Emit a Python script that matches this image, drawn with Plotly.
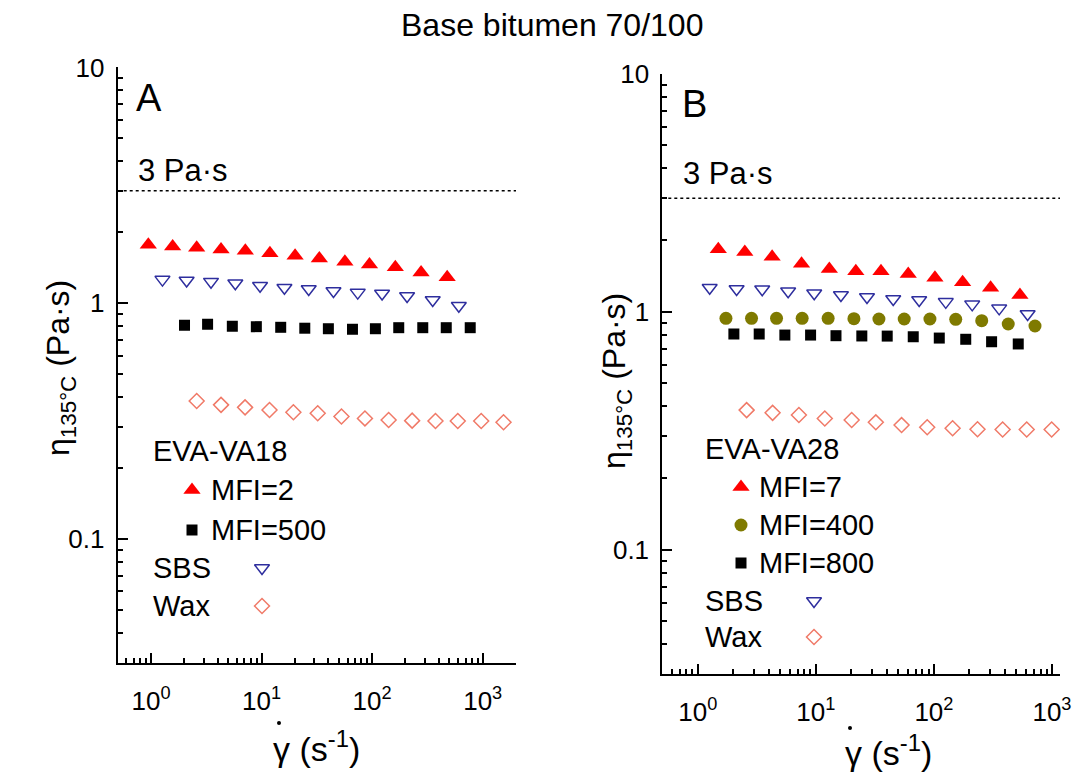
import math
import plotly.graph_objects as go

# ---- data: viscosity at 135 °C vs shear rate ----
# Panel A: EVA-VA18
a_mfi2_x = [0.946, 1.57, 2.59, 4.30, 7.13, 11.9, 20.1, 33.3, 56.7, 94.6, 162, 277, 477]
a_mfi2_y = [1.77, 1.74, 1.72, 1.69, 1.67, 1.63, 1.59, 1.55, 1.50, 1.46, 1.42, 1.35, 1.29]

a_mfi500_x = [2.01, 3.25, 5.44, 8.97, 14.9, 24.6, 40.2, 66.4, 107, 174, 287, 468, 771]
a_mfi500_y = [0.807, 0.815, 0.800, 0.796, 0.791, 0.784, 0.780, 0.776, 0.780, 0.788, 0.788, 0.788, 0.788]

a_sbs_x = [1.27, 2.10, 3.49, 5.79, 9.69, 16.1, 26.7, 44.7, 74.1, 123, 207, 353, 608]
a_sbs_y = [1.26, 1.25, 1.235, 1.216, 1.187, 1.164, 1.15, 1.127, 1.11, 1.10, 1.074, 1.033, 0.977]

a_wax_x = [2.59, 4.30, 7.09, 11.8, 19.4, 32.2, 52.8, 86.1, 141, 230, 374, 595, 969, 1543]
a_wax_y = [0.385, 0.371, 0.362, 0.353, 0.345, 0.342, 0.331, 0.325, 0.320, 0.318, 0.317, 0.317, 0.317, 0.313]

# Panel B: EVA-VA28
b_mfi7_x = [1.49, 2.50, 4.26, 7.56, 13.0, 21.8, 35.6, 60.6, 102, 175, 302, 535]
b_mfi7_y = [1.83, 1.78, 1.70, 1.59, 1.51, 1.48, 1.48, 1.44, 1.39, 1.33, 1.26, 1.175]

b_mfi400_x = [1.73, 2.85, 4.64, 7.65, 12.7, 21.0, 34.2, 56.0, 92.5, 153, 254, 426, 718]
b_mfi400_y = [0.938, 0.938, 0.938, 0.938, 0.938, 0.935, 0.932, 0.932, 0.932, 0.929, 0.917, 0.888, 0.871]

b_mfi800_x = [2.02, 3.31, 5.46, 9.02, 14.8, 24.5, 40.2, 66.8, 111, 186, 308, 518]
b_mfi800_y = [0.806, 0.806, 0.798, 0.798, 0.793, 0.791, 0.790, 0.785, 0.775, 0.766, 0.748, 0.732]

b_sbs_x = [1.26, 2.13, 3.51, 5.82, 9.68, 16.3, 27.1, 45.2, 75.0, 126, 211, 357, 622]
b_sbs_y = [1.26, 1.245, 1.242, 1.22, 1.195, 1.175, 1.153, 1.131, 1.12, 1.10, 1.074, 1.033, 0.978]

b_wax_x = [2.59, 4.30, 7.18, 11.9, 20.1, 32.2, 53.2, 87.7, 144, 234, 382, 611, 994]
b_wax_y = [0.386, 0.376, 0.368, 0.356, 0.351, 0.343, 0.334, 0.327, 0.324, 0.321, 0.320, 0.320, 0.320]

limit_viscosity = 3  # Pa·s
x_ticks = [1, 10, 100, 1000]
x_tick_labels = ["10<sup>0</sup>", "10<sup>1</sup>", "10<sup>2</sup>", "10<sup>3</sup>"]
y_ticks = [0.1, 1, 10]
y_tick_labels = ["0.1", "1", "10"]

# ---- styling ----
W, H = 1080, 776
FONT = "Arial, Liberation Sans, sans-serif"
RED = "#ff0000"
BLACK = "#000000"
OLIVE = "#7f7a00"
BLUE = "#2e2e9e"
SALMON = "#f07a68"

STYLE = {
    "mfi_low": dict(symbol="triangle-up", size=15, color=RED),
    "mfi_high": dict(symbol="square", size=11, color=BLACK),
    "mfi_mid": dict(symbol="circle", size=13, color=OLIVE),
    "sbs": dict(symbol="triangle-down-open", size=13, color=BLUE, line=dict(color=BLUE, width=1.5)),
    "wax": dict(symbol="diamond-open", size=11.5, color=SALMON, line=dict(color=SALMON, width=1.5)),
}


def px(x):
    return x / W


def py(y):
    return 1 - y / H


fig = go.Figure()


def add_series(xs, ys, style, xa, ya):
    fig.add_trace(go.Scatter(x=xs, y=ys, mode="markers", marker=style,
                             xaxis=xa, yaxis=ya, showlegend=False, hoverinfo="skip"))


# Panel A
add_series(a_mfi2_x, a_mfi2_y, STYLE["mfi_low"], "x", "y")
add_series(a_sbs_x, a_sbs_y, STYLE["sbs"], "x", "y")
add_series(a_mfi500_x, a_mfi500_y, STYLE["mfi_high"], "x", "y")
add_series(a_wax_x, a_wax_y, STYLE["wax"], "x", "y")

# Panel B
add_series(b_mfi7_x, b_mfi7_y, STYLE["mfi_low"], "x2", "y2")
add_series(b_sbs_x, b_sbs_y, STYLE["sbs"], "x2", "y2")
add_series(b_mfi400_x, b_mfi400_y, STYLE["mfi_mid"], "x2", "y2")
add_series(b_mfi800_x, b_mfi800_y, STYLE["mfi_high"], "x2", "y2")
add_series(b_wax_x, b_wax_y, STYLE["wax"], "x2", "y2")

# Ranges (log10 units)
A_XR = [math.log10(0.5), math.log10(2000)]
B_XR = [math.log10(0.5), 3.068]
YR = [math.log10(0.03), 1]

# 3 Pa·s reference lines spanning each panel
for xa, ya, xr in (("x", "y", A_XR), ("x2", "y2", B_XR)):
    fig.add_trace(go.Scatter(x=[10 ** xr[0], 10 ** xr[1]], y=[limit_viscosity, limit_viscosity],
                             mode="lines", line=dict(color=BLACK, width=1.5, dash="dot"),
                             xaxis=xa, yaxis=ya, showlegend=False, hoverinfo="skip"))

# Legend glyphs drawn on a full-page pixel overlay
legend_glyphs = [
    (192, 490, "mfi_low"), (192, 530, "mfi_high"), (262, 568, "sbs"), (262, 606, "wax"),
    (741, 487, "mfi_low"), (741, 525, "mfi_mid"), (741, 563, "mfi_high"), (814, 601, "sbs"), (814, 637, "wax"),
]
for gx, gy, key in legend_glyphs:
    fig.add_trace(go.Scatter(x=[gx], y=[gy], mode="markers", marker=STYLE[key],
                             xaxis="x3", yaxis="y3", showlegend=False, hoverinfo="skip"))

axis_common = dict(
    type="log", showline=True, linewidth=2, linecolor=BLACK, mirror=False, automargin=False,
    showgrid=False, zeroline=False, ticks="inside", ticklen=10, tickwidth=2, tickcolor=BLACK,
    tickfont=dict(family=FONT, size=26, color=BLACK),
    minor=dict(ticks="inside", ticklen=5, tickwidth=1.5, tickcolor=BLACK, dtick="D1", showgrid=False),
    fixedrange=True,
)

fig.update_layout(
    template="none",
    width=W, height=H, autosize=False,
    margin=dict(l=0, r=0, t=0, b=0, pad=0),
    paper_bgcolor="white", plot_bgcolor="rgba(0,0,0,0)",
    xaxis=dict(axis_common, domain=[px(117.7), px(516)], range=A_XR,
               tickvals=x_ticks, ticktext=x_tick_labels, anchor="y", ticklabelstandoff=14),
    yaxis=dict(axis_common, domain=[py(662.5), py(67.4)], range=YR,
               tickvals=y_ticks, ticktext=y_tick_labels, anchor="x", ticklabelstandoff=6),
    xaxis2=dict(axis_common, domain=[px(662.3), px(1060)], range=B_XR,
                tickvals=x_ticks, ticktext=x_tick_labels, anchor="y2", ticklabelstandoff=14),
    yaxis2=dict(axis_common, domain=[py(674.2), py(73.7)], range=YR,
                tickvals=y_ticks, ticktext=y_tick_labels, anchor="x2", ticklabelstandoff=6),
    xaxis3=dict(domain=[0, 1], range=[0, W], visible=False, fixedrange=True, anchor="y3", automargin=False),
    yaxis3=dict(domain=[0, 1], range=[H, 0], visible=False, fixedrange=True, anchor="x3", automargin=False),
)

annotations = []


def text(x, y, s, size=29, xanchor="left", angle=0):
    annotations.append(dict(x=px(x), y=py(y), xref="paper", yref="paper", text=s,
                            showarrow=False, xanchor=xanchor, yanchor="middle", textangle=angle,
                            font=dict(family=FONT, size=size, color=BLACK)))


text(552, 25, "Base bitumen 70/100", size=32, xanchor="center")

# Panel labels and reference-line labels
text(134, 98, "A", size=38)
text(680, 104, "B", size=38)
text(136, 170, "3 Pa·s", size=31)
text(681, 174, "3 Pa·s", size=31)

# Legend text
text(151, 451, "EVA-VA18")
text(209, 490, "MFI=2")
text(209, 530, "MFI=500")
text(151, 568, "SBS")
text(151, 606, "Wax")

text(703, 449, "EVA-VA28")
text(757, 487, "MFI=7")
text(757, 525, "MFI=400")
text(757, 563, "MFI=800")
text(703, 601, "SBS")
text(703, 637, "Wax")

# Axis titles
ytitle = "η<sub>135°C</sub> (Pa·s)"
text(60, 368, ytitle, size=32, xanchor="center", angle=-90)
text(616, 381, ytitle, size=32, xanchor="center", angle=-90)
xtitle = "γ (s<sup>-1</sup>)"
text(316, 746, xtitle, size=34, xanchor="center")
text(888, 750, xtitle, size=34, xanchor="center")

fig.update_layout(annotations=annotations)

# Overdots on the shear-rate symbol
for dx, dy in ((279, 723), (850, 728)):
    fig.add_shape(type="circle", xref="paper", yref="paper",
                  x0=px(dx - 2), x1=px(dx + 2), y0=py(dy + 2), y1=py(dy - 2),
                  fillcolor=BLACK, line=dict(width=0))

fig.write_html("out.html")
